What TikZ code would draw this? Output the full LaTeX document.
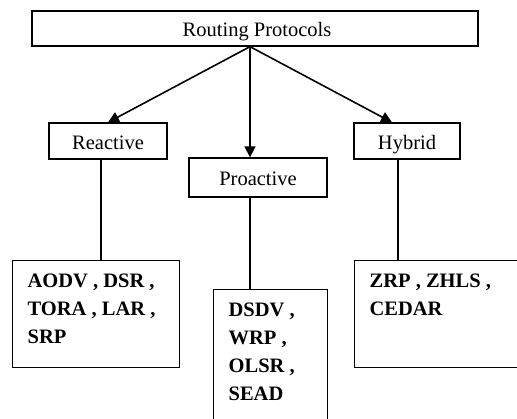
\documentclass[tikz,border=0pt]{standalone}
\usepackage{fontspec}
\setmainfont{Liberation Serif}
\usetikzlibrary{arrows.meta}
\tikzstyle{groupbox} =[
    draw,
    rectangle,
    line width=1.3pt,
    inner sep=0pt,
    text height=17pt,
    text depth=0pt,
    font=\fontsize{20.5}{28}\selectfont
    ]
\tikzstyle{listbox} = [
    draw,
    rectangle,
    line width=1.3pt,
    inner sep=0pt,
    anchor=north west,
    font=\fontsize{20.5}{28}\selectfont\bfseries
    ]
\tikzstyle{branch} = [line width=1.6pt, -{Triangle[length=11pt,width=11pt]}]
\tikzstyle{stem} = [line width=1.3pt]
\newcommand{\protolist}[3]{% width, height, lines
\begin{minipage}[t][#2][t]{#1}\raggedright\leftskip=15pt
\rule{0pt}{27pt}#3
\end{minipage}}

\begin{document}
\begin{tikzpicture}[x=1pt, y=-1pt]
\useasboundingbox (0,0) rectangle (517,419);

\node[groupbox, minimum width=446pt, minimum height=35pt] (routing) at (255,28.5) {\hspace{4pt}Routing Protocols};
\node[groupbox, minimum width=118pt, minimum height=36pt] (reactive) at (108,141) {Reactive\hspace{18pt}};
\node[groupbox, minimum width=138pt, minimum height=39pt] (proactive) at (258,177.5) {Proactive\hspace{14pt}};
\node[groupbox, minimum width=106pt, minimum height=36pt] (hybrid) at (407,141) {Hybrid\hspace{11pt}};

\node[listbox] (reactlist) at (12,260) {%
    \protolist{167pt}{107pt}{AODV , DSR ,\\ TORA , LAR ,\\ SRP}};
\node[listbox] (proactlist) at (213,289) {%
    \protolist{114pt}{140pt}{DSDV ,\\ WRP ,\\ OLSR ,\\ SEAD}};
\node[listbox] (hybridlist) at (354,260) {%
    \protolist{180pt}{107pt}{ZRP , ZHLS ,\\ CEDAR}};

% arrows out of the root
\coordinate (fork) at ([xshift=-5pt]routing.south);
\draw[branch] (fork) -- (reactive.north);
\draw[branch] (fork) -- (fork |- proactive.north);
\draw[branch] (fork) -- ([xshift=-15pt]hybrid.north);

% plain lines down to the lists
\draw[stem] ([xshift=-7pt]reactive.south) -- ([xshift=-7pt]reactive.south |- reactlist.north);
\draw[stem] ([xshift=-8pt]proactive.south) -- ([xshift=-8pt]proactive.south |- proactlist.north);
\draw[stem] ([xshift=-9pt]hybrid.south) -- ([xshift=-9pt]hybrid.south |- hybridlist.north);
\end{tikzpicture}
\end{document}
